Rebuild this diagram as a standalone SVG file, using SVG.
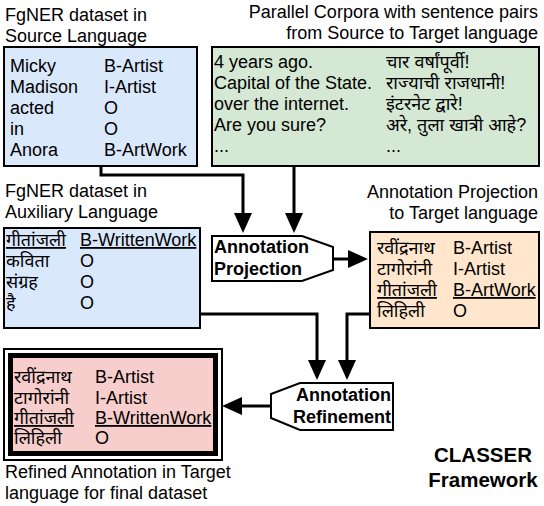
<svg xmlns="http://www.w3.org/2000/svg" width="544" height="506" viewBox="0 0 544 506">
<style>
text{font-family:"Liberation Sans","Noto Sans Devanagari","Noto Sans",sans-serif;font-size:18px;fill:#000}
.b{font-weight:bold}
.r{text-anchor:end}
.u{text-decoration:underline}
.box{stroke:#000;stroke-width:2}
.conn{fill:none;stroke:#000;stroke-width:3}
</style>
<defs>
<marker id="ah" markerUnits="userSpaceOnUse" markerWidth="20" markerHeight="18" viewBox="0 0 20 18" refX="0" refY="9" orient="auto">
<path d="M0,0 L20,9 L0,18 Z" fill="#000"/>
</marker>
</defs>
<rect width="544" height="506" fill="#fff"/>
<g id="connectors">
<path class="conn" d="M101,166 V175 H243 V213" marker-end="url(#ah)"/>
<path class="conn" d="M294,166 V213" marker-end="url(#ah)"/>
<path class="conn" d="M333,259 H348" marker-end="url(#ah)"/>
<path class="conn" d="M200,314 H317 V360" marker-end="url(#ah)"/>
<path class="conn" d="M370,314 H347 V360" marker-end="url(#ah)"/>
<path class="conn" d="M271,406 H242" marker-end="url(#ah)"/>
</g>
<g id="source">
<text x="5" y="21">FgNER dataset in</text>
<text x="5" y="42">Source Language</text>
<rect class="box" x="4" y="47" width="193" height="119" fill="#dae8fc"/>
<text x="10" y="72">Micky</text><text x="104" y="72">B-Artist</text>
<text x="10" y="93">Madison</text><text x="104" y="93">I-Artist</text>
<text x="10" y="114">acted</text><text x="104" y="114">O</text>
<text x="10" y="135">in</text><text x="104" y="135">O</text>
<text x="10" y="156">Anora</text><text x="104" y="156">B-ArtWork</text>
</g>
<g id="parallel">
<text class="r" x="538" y="18">Parallel Corpora with sentence pairs</text>
<text class="r" x="538" y="39">from Source to Target language</text>
<rect class="box" x="212" y="47" width="327" height="119" fill="#d5e8d4"/>
<text x="214" y="68">4 years ago.</text><text x="386" y="68">चार वर्षांपूर्वी!</text>
<text x="214" y="89">Capital of the State.</text><text x="386" y="89">राज्याची राजधानी!</text>
<text x="214" y="110">over the internet.</text><text x="386" y="110">इंटरनेट द्वारे!</text>
<text x="214" y="131">Are you sure?</text><text x="386" y="131">अरे, तुला खात्री आहे?</text>
<text x="214" y="152">...</text><text x="386" y="152">...</text>
</g>
<g id="auxiliary">
<text x="5" y="197">FgNER dataset in</text>
<text x="5" y="218">Auxiliary Language</text>
<rect class="box" x="4" y="228" width="196" height="100" fill="#dae8fc"/>
<text class="u" x="6" y="246">गीतांजली</text><text class="u" x="80" y="246">B-WrittenWork</text>
<text x="6" y="267">कविता</text><text x="80" y="267">O</text>
<text x="6" y="288">संग्रह</text><text x="80" y="288">O</text>
<text x="6" y="309">है</text><text x="80" y="309">O</text>
</g>
<g id="projection">
<polygon class="box" points="212,236 302,236 333,247 333,270 302,281 212,281" fill="#fff"/>
<text class="b" x="214" y="253">Annotation</text>
<text class="b" x="214" y="275">Projection</text>
</g>
<g id="target">
<text class="r" x="538" y="198">Annotation Projection</text>
<text class="r" x="538" y="219">to Target language</text>
<rect class="box" x="370" y="232" width="169" height="96" fill="#ffe6cc"/>
<text x="377" y="254">रवींद्रनाथ</text><text x="453" y="254">B-Artist</text>
<text x="377" y="275">टागोरांनी</text><text x="453" y="275">I-Artist</text>
<text class="u" x="377" y="296">गीतांजली</text><text class="u" x="453" y="296">B-ArtWork</text>
<text x="377" y="317">लिहिली</text><text x="453" y="317">O</text>
</g>
<g id="refinement">
<polygon class="box" points="300,383 393,383 393,430 300,430 271,418 271,394" fill="#fff"/>
<text class="b r" x="391" y="401">Annotation</text>
<text class="b r" x="391" y="423">Refinement</text>
</g>
<g id="final">
<rect x="4" y="349" width="218" height="111" fill="#fff" stroke="#000" stroke-width="2"/>
<rect x="10.5" y="355.5" width="205" height="98" fill="#f8cecc" stroke="#000" stroke-width="5"/>
<text x="14" y="383">रवींद्रनाथ</text><text x="95" y="383">B-Artist</text>
<text x="14" y="404">टागोरांनी</text><text x="95" y="404">I-Artist</text>
<text class="u" x="14" y="424">गीतांजली</text><text class="u" x="95" y="424">B-WrittenWork</text>
<text x="14" y="444">लिहिली</text><text x="95" y="444">O</text>
<text x="5" y="478">Refined Annotation in Target</text>
<text x="5" y="499">language for final dataset</text>
</g>
<g id="title">
<text class="b" x="483" y="462" text-anchor="middle" style="font-size:20.5px">CLASSER</text>
<text class="b" x="483" y="487" text-anchor="middle" style="font-size:20.5px">Framework</text>
</g>
</svg>
